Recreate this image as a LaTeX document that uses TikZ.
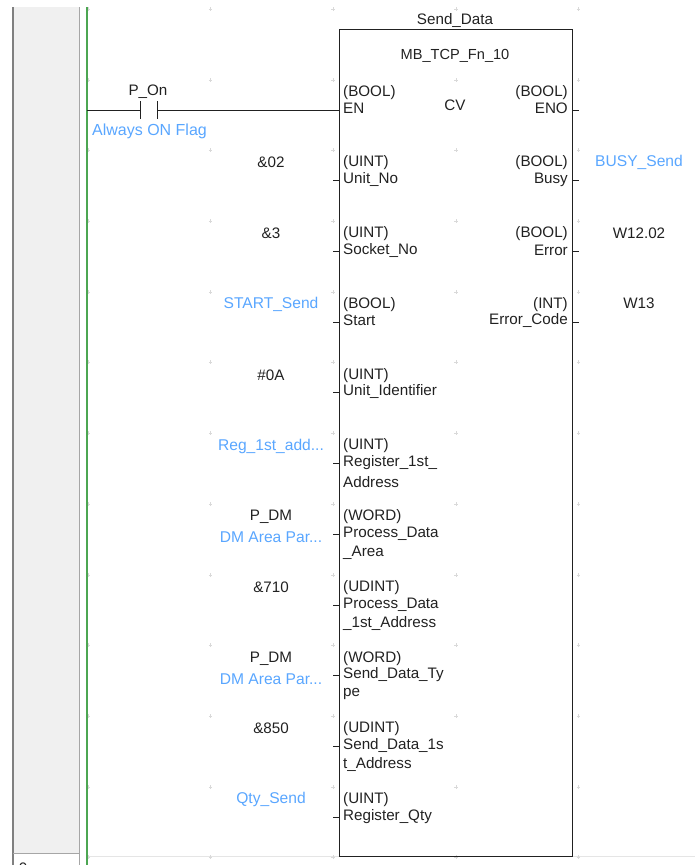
\documentclass[tikz,border=0pt]{standalone}
\usepackage{fontspec}
\setmainfont{Liberation Sans}
\usepackage{tikz}
\usetikzlibrary{arrows.meta, positioning, calc}
\definecolor{TagBlue}{rgb}{0.35, 0.65, 1.0}
\definecolor{RailGreen}{rgb}{0.30, 0.65, 0.32}
\definecolor{PanelGray}{rgb}{0.94, 0.94, 0.94}
\definecolor{InkGray}{rgb}{0.13, 0.13, 0.13}
\newcommand{\cutoff}{...}
\tikzset{
    txt/.style={inner sep=0pt, yshift=-1.7pt, text=InkGray, font=\fontsize{15.2}{16}\selectfont},
    pinleft/.style={txt, anchor=west},
    pinright/.style={txt, anchor=east},
    tag/.style={txt, text=TagBlue, font=\fontsize{15.6}{16}\selectfont},
    wire/.style={line width=1pt, InkGray},
}
\begin{document}
\begin{tikzpicture}[x=1pt, y=-1pt]
        \useasboundingbox (0,0) rectangle (695,865);
        % Side panel
        \fill[PanelGray] (13,7) rectangle (80,853);
        \draw[line width=2pt, gray] (12.5,7) -- (12.5,865);
        \draw[line width=1pt, gray!70] (79.5,7) -- (79.5,865);
        \draw[line width=1pt, gray!70] (13,853) -- (80,853);
        \node[txt] (rowno) at (23,867) {0};
        % Grid
        \draw[gray!20, line width=0.8pt] (87,856) -- (695,856);
        \foreach \y in {9, 80, 150, 221, 292, 362, 433, 504, 575, 645, 716, 787, 857} {
            \foreach \x in {88, 210.5, 333, 456, 578.5} {
                \draw[gray!30, line width=0.7pt] (\x-1.7,\y) -- (\x+1.7,\y) (\x,\y-1.7) -- (\x,\y+1.7);
            }
        }
        \draw[RailGreen, line width=1.2pt] (87,7) -- (87,865);
        % Function block
        \node[draw=InkGray, line width=1.1pt, fill=none, minimum width=233pt, minimum height=827pt, inner sep=0pt, anchor=north west] (fb) at (339,29) {};
        \node[txt] (inst) at (455,19) {Send\_Data};
        \node[txt, font=\fontsize{14.6}{16}\selectfont] (fbname) at (455,54) {MB\_TCP\_Fn\_10};
        \node[txt] (cv) at (455,104) {CV};
        % Contact
        \coordinate (rail) at (87,110);
        \coordinate (contactl) at (140,110);
        \coordinate (contactr) at (157,110);
        \draw[wire] (rail) -- (contactl);
        \draw[wire] (contactr) -- (contactr -| fb.west);
        \draw[wire] ($(contactl)+(0,-9)$) -- ($(contactl)+(0,9)$);
        \draw[wire] ($(contactr)+(0,-9)$) -- ($(contactr)+(0,9)$);
        \node[txt] (pon) at (148,90) {P\_On};
        \node[tag, font=\fontsize{16}{16}\selectfont] (ponflag) at (149.5,130) {Always ON Flag};
        % Stubs
        \foreach \y in {180.7, 251.4, 322, 392.8, 463.5, 534, 605, 675.6, 746, 817} {
            \coordinate (instub) at (333,\y);
            \draw[wire] (instub) -- (instub -| fb.west);
        }
        \foreach \y in {110, 180.7, 251.4, 322} {
            \coordinate (outstub) at (579,\y);
            \draw[wire] (outstub -| fb.east) -- (outstub);
        }
        % Input pins
        \foreach \y/\t [count=\i] in {91/(BOOL), 107/EN, 161/(UINT), 178/Unit\_No, 232/(UINT), 249/Socket\_No,
            303/(BOOL), 319/Start, 374/(UINT), 390/Unit\_Identifier, 444/(UINT), 461/Register\_1st\_, 480/Address,
            515/(WORD), 532/Process\_Data, 551/\_Area, 586/(UDINT), 603/Process\_Data, 622/\_1st\_Address,
            657/(WORD), 673/Send\_Data\_Ty, 692/pe, 727/(UDINT), 744/Send\_Data\_1s, 763/t\_Address,
            798/(UINT), 815/Register\_Qty} {
            \node[pinleft] (inpin\i) at (343,\y) {\t};
        }
        % Output pins
        \foreach \y/\t [count=\i] in {91/(BOOL), 107/ENO, 161/(BOOL), 178/Busy, 232/(BOOL), 249/Error, 303/(INT), 319/Error\_Code} {
            \node[pinright] (outpin\i) at (568,\y) {\t};
        }
        % Operands
        \foreach \y/\t [count=\i] in {161/\&02, 232/\&3, 374/\#0A, 515/P\_DM, 586/\&710, 657/P\_DM, 727/\&850} {
            \node[txt] (opin\i) at (271,\y) {\t};
        }
        \foreach \y/\t [count=\i] in {303/START\_Send, 445/Reg\_1st\_add\cutoff, 536/DM Area Par\cutoff, 677/DM Area Par\cutoff, 798/Qty\_Send} {
            \node[tag] (tagin\i) at (271,\y) {\t};
        }
        \node[tag] (busy) at (639,161) {BUSY\_Send};
        \node[txt] (err) at (639,232) {W12.02};
        \node[txt] (errcode) at (639,302) {W13};
    \end{tikzpicture}
\end{document}
